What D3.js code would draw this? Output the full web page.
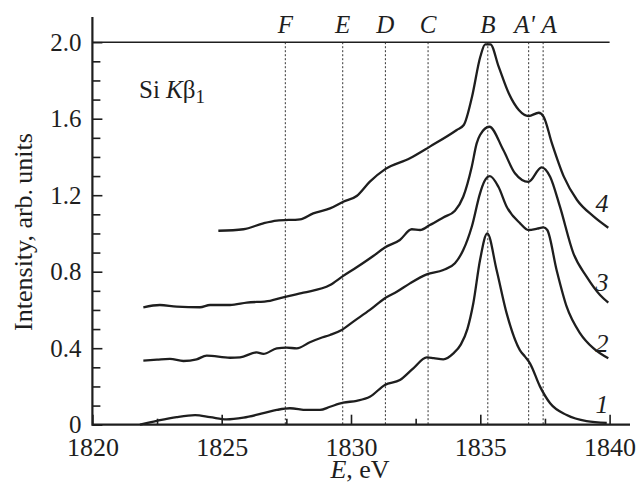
<!DOCTYPE html>
<html lang="en">
<head>
<meta charset="UTF-8">
<title>Si Kb1 spectra</title>
<script src="https://d3js.org/d3.v7.min.js"></script>
<style>
    body { margin: 0; background: #fff; }
    svg { display: block; }
    text { font-family: "Liberation Serif", "Times New Roman", serif; fill: #1e1e1e; }
    .axis path { display: none; }
    .axis line { stroke: #1e1e1e; stroke-width: 1.6; }
</style>
</head>
<body>
<script>
    // spectra: energy (eV) and intensity (arb. units)
    const e1 = [1821.84, 1822.49, 1823.26, 1823.97, 1824.55, 1825.19, 1825.84, 1826.61, 1827.13, 1827.64, 1828.29, 1828.8, 1829.19, 1829.7, 1830.22, 1830.73, 1831.31, 1831.89, 1832.41, 1832.93, 1833.2, 1833.57, 1833.96, 1834.25, 1834.5, 1834.73, 1834.99, 1835.27, 1835.63, 1836.02, 1836.53, 1836.73, 1836.92, 1837.31, 1837.7, 1838.34, 1839.11, 1839.89];
    const i1 = [0.0, 0.02, 0.04, 0.05, 0.04, 0.028, 0.037, 0.06, 0.077, 0.086, 0.077, 0.077, 0.094, 0.115, 0.125, 0.146, 0.208, 0.234, 0.295, 0.352, 0.348, 0.342, 0.373, 0.42, 0.5, 0.635, 0.861, 1.0, 0.809, 0.582, 0.39, 0.356, 0.321, 0.199, 0.112, 0.051, 0.019, 0.01];

    const e2 = [1821.97, 1822.5, 1823.0, 1823.52, 1824.03, 1824.42, 1825.32, 1825.71, 1826.35, 1826.61, 1827.13, 1827.51, 1827.9, 1828.41, 1828.8, 1829.19, 1829.64, 1830.09, 1830.73, 1831.31, 1831.77, 1832.28, 1832.93, 1833.57, 1834.02, 1834.34, 1834.67, 1834.99, 1835.15, 1835.37, 1835.7, 1836.02, 1836.54, 1836.86, 1837.2, 1837.44, 1837.59, 1837.95, 1838.34, 1838.86, 1839.37, 1839.95];
    const i2 = [0.335, 0.34, 0.344, 0.333, 0.342, 0.361, 0.35, 0.352, 0.378, 0.37, 0.399, 0.403, 0.399, 0.431, 0.452, 0.469, 0.495, 0.539, 0.6, 0.661, 0.695, 0.739, 0.786, 0.809, 0.844, 0.913, 1.035, 1.21, 1.27, 1.3, 1.244, 1.14, 1.053, 1.018, 1.025, 1.032, 1.018, 0.809, 0.617, 0.478, 0.4, 0.347];

    const e3 = [1821.97, 1822.61, 1823.26, 1824.16, 1824.55, 1825.32, 1825.97, 1826.87, 1827.38, 1828.16, 1829.19, 1829.7, 1830.22, 1830.86, 1831.31, 1831.89, 1832.35, 1832.67, 1833.05, 1833.57, 1834.02, 1834.34, 1834.67, 1834.86, 1834.99, 1835.35, 1835.89, 1836.34, 1836.86, 1837.37, 1837.7, 1838.08, 1838.6, 1839.11, 1839.63, 1839.95];
    const i3 = [0.614, 0.626, 0.617, 0.614, 0.626, 0.626, 0.638, 0.648, 0.666, 0.69, 0.73, 0.778, 0.823, 0.882, 0.927, 0.966, 1.022, 1.018, 1.044, 1.084, 1.119, 1.192, 1.349, 1.471, 1.515, 1.558, 1.436, 1.315, 1.27, 1.346, 1.297, 1.14, 0.896, 0.774, 0.678, 0.638];

    const e4 = [1824.87, 1825.84, 1826.61, 1827.13, 1828.03, 1828.54, 1829.19, 1829.7, 1830.22, 1830.73, 1831.31, 1832.28, 1833.05, 1834.09, 1834.36, 1834.68, 1835.0, 1835.19, 1835.39, 1835.71, 1836.1, 1836.49, 1836.87, 1837.26, 1837.45, 1837.77, 1838.23, 1838.74, 1839.39, 1839.95];
    const i4 = [1.014, 1.022, 1.053, 1.067, 1.074, 1.105, 1.131, 1.166, 1.196, 1.271, 1.335, 1.393, 1.454, 1.541, 1.567, 1.715, 1.924, 1.989, 1.989, 1.872, 1.733, 1.646, 1.614, 1.631, 1.61, 1.471, 1.297, 1.175, 1.088, 1.03];

    const curveNames = ["1", "2", "3", "4"];
    const labelY = [0.06, 0.38, 0.7, 1.11];   // height of the curve number next to each spectrum

    // dotted marker lines and their letters
    const peakNames = ["F", "E", "D", "C", "B", "A'", "A"];
    const peakE = [1827.46, 1829.68, 1831.33, 1832.98, 1835.29, 1836.87, 1837.43];

    const xMajor = [1820, 1825, 1830, 1835, 1840];
    const xMinor = [1822.5, 1827.5, 1832.5, 1837.5];
    const yMajor = [0, 0.4, 0.8, 1.2, 1.6, 2.0];
    const yMinor = [0.1, 0.2, 0.3, 0.5, 0.6, 0.7, 0.9, 1.0, 1.1, 1.3, 1.4, 1.5, 1.7, 1.8, 1.9];

    const width = 637, height = 484;
    const svg = d3.select("body").append("svg")
        .attr("width", width).attr("height", height);

    const x = d3.scaleLinear().domain([1820, 1840]).range([92.4, 609.6]);
    const y = d3.scaleLinear().domain([0, 2]).range([424.7, 42.2]);
    const ink = "#1e1e1e";

    // dotted verticals first so curves sit on top
    svg.append("g").selectAll("line")
        .data(peakE)
        .enter().append("line")
        .attr("x1", d => x(d)).attr("x2", d => x(d))
        .attr("y1", y(2)).attr("y2", y(0))
        .attr("stroke", "#333").attr("stroke-width", 1)
        .attr("stroke-dasharray", "2,2");

    // A' and A sit close together, push them apart a little
    const nudge = { "A'": -4, "A": 6 };
    svg.append("g").selectAll("text")
        .data(peakNames)
        .enter().append("text")
        .attr("x", (d, i) => x(peakE[i]) + (nudge[d] || 0))
        .attr("y", 33)
        .attr("text-anchor", "middle")
        .attr("font-style", "italic")
        .attr("font-size", 25)
        .text(d => d);

    // x axis: major ticks with labels, minor ticks without
    svg.append("g").attr("class", "axis")
        .attr("transform", `translate(0,${y(0)})`)
        .call(d3.axisBottom(x).tickValues(xMajor).tickSizeInner(-10).tickSizeOuter(0).tickPadding(13).tickFormat(d3.format("d")))
        .call(g => g.selectAll("text").attr("font-size", 26).attr("fill", ink).attr("font-family", null));
    svg.append("g").attr("class", "axis")
        .attr("transform", `translate(0,${y(0)})`)
        .call(d3.axisBottom(x).tickValues(xMinor).tickSizeInner(-6).tickSizeOuter(0).tickFormat(""));

    // y axis
    svg.append("g").attr("class", "axis")
        .attr("transform", `translate(${x(1820)},0)`)
        .call(d3.axisLeft(y).tickValues(yMajor).tickSizeInner(-10).tickSizeOuter(0).tickPadding(11).tickFormat(d => d === 0 ? "0" : d3.format(".1f")(d)))
        .call(g => g.selectAll("text").attr("font-size", 25).attr("fill", ink).attr("font-family", null));
    svg.append("g").attr("class", "axis")
        .attr("transform", `translate(${x(1820)},0)`)
        .call(d3.axisLeft(y).tickValues(yMinor).tickSizeInner(-8).tickSizeOuter(0).tickFormat(""));

    // frame lines
    svg.append("line")
        .attr("x1", x(1820)).attr("x2", 630)
        .attr("y1", y(0)).attr("y2", y(0))
        .attr("stroke", ink).attr("stroke-width", 2.2);
    svg.append("line")
        .attr("x1", x(1820)).attr("x2", x(1820))
        .attr("y1", 17).attr("y2", y(0) + 1)
        .attr("stroke", ink).attr("stroke-width", 2.2);
    svg.append("line")
        .attr("x1", x(1820)).attr("x2", x(1840))
        .attr("y1", y(2)).attr("y2", y(2))
        .attr("stroke", ink).attr("stroke-width", 1.6);

    // spectra
    const series = [[e1, i1], [e2, i2], [e3, i3], [e4, i4]];
    const line = d3.line()
        .x(d => x(d[0]))
        .y(d => y(d[1]))
        .curve(d3.curveMonotoneX);

    svg.append("g").selectAll("path")
        .data(series.map(s => s[0].map((e, k) => [e, s[1][k]])))
        .enter().append("path")
        .attr("d", line)
        .attr("fill", "none")
        .attr("stroke", ink)
        .attr("stroke-width", 2.3)
        .attr("stroke-linejoin", "round");

    svg.append("g").selectAll("text")
        .data(curveNames)
        .enter().append("text")
        .attr("x", 602)
        .attr("y", (d, i) => y(labelY[i]))
        .attr("text-anchor", "middle")
        .attr("font-style", "italic")
        .attr("font-size", 26)
        .text(d => d);

    // annotation Si K beta 1
    const note = svg.append("text")
        .attr("x", 139).attr("y", 98)
        .attr("font-size", 25);
    note.append("tspan").text("Si ");
    note.append("tspan").attr("font-style", "italic").text("K");
    note.append("tspan").text("β");
    note.append("tspan").attr("font-size", 19).attr("dy", 5).text("1");

    // axis titles
    svg.append("text")
        .attr("transform", "translate(32,232) rotate(-90)")
        .attr("text-anchor", "middle")
        .attr("font-size", 26)
        .text("Intensity, arb.\u2009units");

    const xt = svg.append("text")
        .attr("x", 360).attr("y", 478)
        .attr("text-anchor", "middle")
        .attr("font-size", 26);
    xt.append("tspan").attr("font-style", "italic").text("E");
    xt.append("tspan").text(", eV");
</script>
</body>
</html>
